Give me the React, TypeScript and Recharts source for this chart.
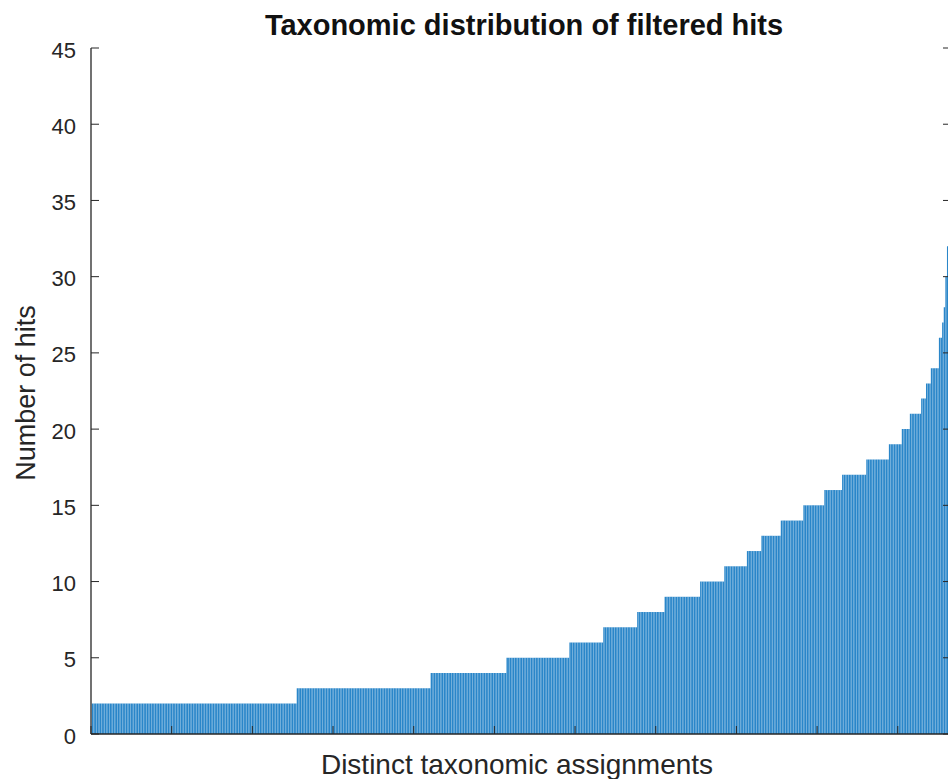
import { BarChart, Bar, XAxis, YAxis } from "recharts";

// sorted hit counts per taxonomic assignment
const hitLevels = [2, 3, 4, 5, 6, 7, 8, 9, 10, 11, 12, 13, 14, 15, 16, 17, 18, 19, 20, 21, 22, 23, 24, 26, 27, 28, 30, 32, 43];
const levelCounts = [127, 83, 47, 39, 21, 21, 17, 22, 15, 14, 9, 12, 14, 13, 11, 15, 14, 8, 5, 7, 3, 3, 5, 2, 1, 1, 1, 1, 1];

const yTicks = [0, 5, 10, 15, 20, 25, 30, 35, 40, 45];
const xTicks = [0, 50, 100, 150, 200, 250, 300, 350, 400, 450, 500];

const chartData = hitLevels
  .flatMap((v, i) => Array.from({ length: levelCounts[i] }, () => v))
  .map((hits, i) => ({ idx: i + 1, hits }));

const X_MAX = chartData.length + 1;
const FONT = '"Liberation Sans", Arial, Helvetica, sans-serif';
const AXIS_COLOR = "#262626";
const TICK_LEN = 8;
const LABEL_GAP = 15;

function LeftTick({ x, y, payload }: any) {
  return (
    <g>
      <text
        x={x}
        y={y}
        dy={2}
        textAnchor="end"
        dominantBaseline="central"
        fill={AXIS_COLOR}
        fontSize={22}
        fontFamily={FONT}
      >
        {payload.value}
      </text>
      <line x1={x + LABEL_GAP} x2={x + LABEL_GAP + TICK_LEN} y1={y} y2={y} stroke={AXIS_COLOR} />
    </g>
  );
}

function RightTick({ x, y }: any) {
  return <line x1={x - TICK_LEN} x2={x} y1={y} y2={y} stroke={AXIS_COLOR} />;
}

function BottomTick({ x, y }: any) {
  return <line x1={x} x2={x} y1={y} y2={y - TICK_LEN} stroke={AXIS_COLOR} />;
}

function TopTick({ x, y }: any) {
  return <line x1={x} x2={x} y1={y} y2={y + TICK_LEN} stroke={AXIS_COLOR} />;
}

export default function App() {
  return (
    <div
      style={{
        position: "absolute",
        left: 0,
        top: 0,
        width: 948,
        height: 779,
        overflow: "hidden",
        background: "#fff",
        fontFamily: FONT,
      }}
    >
      <div
        style={{
          position: "absolute",
          left: 524,
          top: 25,
          transform: "translate(-50%, -50%)",
          whiteSpace: "nowrap",
          fontSize: 29,
          fontWeight: "bold",
          color: "#111",
        }}
      >
        Taxonomic distribution of filtered hits
      </div>
      <div
        style={{
          position: "absolute",
          left: 517,
          top: 765,
          transform: "translate(-50%, -50%)",
          whiteSpace: "nowrap",
          fontSize: 28,
          color: AXIS_COLOR,
        }}
      >
        Distinct taxonomic assignments
      </div>
      <div
        style={{
          position: "absolute",
          left: 26,
          top: 393,
          transform: "translate(-50%, -50%) rotate(-90deg)",
          whiteSpace: "nowrap",
          fontSize: 27,
          color: AXIS_COLOR,
        }}
      >
        Number of hits
      </div>
      <BarChart
        width={980}
        height={779}
        data={chartData}
        margin={{ top: 48, right: 0, bottom: 0, left: 0 }}
      >
        <XAxis
          xAxisId="bottom"
          orientation="bottom"
          type="number"
          dataKey="idx"
          domain={[0, X_MAX]}
          ticks={xTicks}
          height={45}
          tickSize={0}
          tickMargin={0}
          tickLine={false}
          tick={<BottomTick />}
          axisLine={{ stroke: AXIS_COLOR, strokeWidth: 1.3 }}
          allowDataOverflow
        />
        <XAxis
          xAxisId="top"
          orientation="top"
          type="number"
          dataKey="idx"
          domain={[0, X_MAX]}
          ticks={xTicks}
          height={0}
          tickSize={0}
          tickMargin={0}
          tickLine={false}
          tick={<TopTick />}
          axisLine={{ stroke: AXIS_COLOR, strokeWidth: 1.3 }}
          allowDataOverflow
        />
        <YAxis
          yAxisId="left"
          orientation="left"
          domain={[0, 45]}
          ticks={yTicks}
          width={91}
          tickSize={0}
          tickMargin={LABEL_GAP}
          tickLine={false}
          tick={<LeftTick />}
          axisLine={{ stroke: AXIS_COLOR, strokeWidth: 1.3 }}
          allowDataOverflow
        />
        <YAxis
          yAxisId="right"
          orientation="right"
          domain={[0, 45]}
          ticks={yTicks}
          width={29}
          tickSize={0}
          tickMargin={0}
          tickLine={false}
          tick={<RightTick />}
          axisLine={{ stroke: AXIS_COLOR, strokeWidth: 1.3 }}
          allowDataOverflow
        />
        <Bar
          xAxisId="bottom"
          yAxisId="left"
          dataKey="hits"
          fill="#2A86C9"
          barSize={1.45}
          isAnimationActive={false}
        />
      </BarChart>
    </div>
  );
}
